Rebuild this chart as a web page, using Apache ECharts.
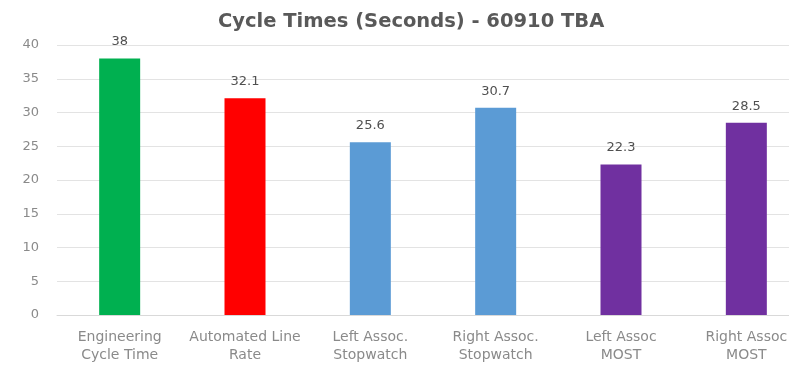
<!DOCTYPE html>
<html>
<head>
<meta charset="utf-8">
<script src="https://cdn.jsdelivr.net/npm/echarts@6/dist/echarts.min.js"></script>
<style>
  html, body { margin: 0; padding: 0; background: #ffffff; overflow: hidden; width: 789px; height: 367px; }
  /* plot runs past the right edge, so the last label is cut */
  #chart { width: 810px; height: 367px; }
</style>
</head>
<body>
<div id="chart"></div>
<script>
// Cycle time per measurement method, in seconds
const categories = [
  'Engineering\nCycle Time',
  'Automated Line\nRate',
  'Left Assoc.\nStopwatch',
  'Right Assoc.\nStopwatch',
  'Left Assoc\nMOST',
  'Right Assoc\nMOST'
];
const cycleSeconds = [38, 32.1, 25.6, 30.7, 22.3, 28.5];
const barColors = ['#00B050', '#FF0000', '#5B9BD5', '#5B9BD5', '#7030A0', '#7030A0'];
const yTicks = { min: 0, max: 40, interval: 5 };

const chart = echarts.init(document.getElementById('chart'));
chart.setOption({
  animation: false,
  backgroundColor: '#ffffff',
  title: {
    text: 'Cycle Times (Seconds) - 60910 TBA',
    left: 213,
    top: 7,
    textStyle: {
      fontFamily: 'DejaVu Sans',
      fontSize: 19.5,
      fontWeight: 'bold',
      color: '#595959'
    }
  },
  grid: { left: 57, top: 45, right: 1, height: 270, containLabel: false },
  xAxis: {
    type: 'category',
    data: categories,
    axisLine: { lineStyle: { color: '#d9d9d9', width: 1 } },
    axisTick: { show: false },
    axisLabel: {
      interval: 0,
      margin: 13,
      fontFamily: 'DejaVu Sans',
      fontSize: 14,
      lineHeight: 18,
      color: '#8a8a8a'
    }
  },
  yAxis: {
    type: 'value',
    min: yTicks.min,
    max: yTicks.max,
    interval: yTicks.interval,
    axisLine: { show: false },
    axisTick: { show: false },
    splitLine: { lineStyle: { color: '#e3e3e3', width: 1 } },
    axisLabel: {
      margin: 18,
      fontFamily: 'DejaVu Sans',
      fontSize: 13,
      color: '#8a8a8a'
    }
  },
  series: [{
    type: 'bar',
    barWidth: 41,
    data: cycleSeconds.map((v, i) => ({ value: v, itemStyle: { color: barColors[i] } })),
    label: {
      show: true,
      position: 'top',
      distance: 10,
      fontFamily: 'DejaVu Sans',
      fontSize: 13,
      color: '#505050'
    }
  }]
});
</script>
</body>
</html>
